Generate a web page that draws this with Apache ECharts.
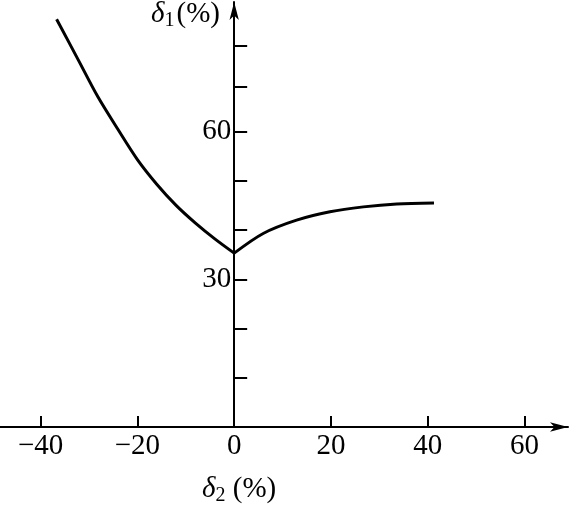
<!DOCTYPE html>
<html>
<head>
<meta charset="utf-8">
<script src="https://cdn.jsdelivr.net/npm/echarts@6/dist/echarts.min.js"></script>
<style>html,body{margin:0;padding:0;background:#fff}#c{width:577px;height:507px}</style>
</head>
<body>
<div id="c"></div>
<script>
// data
const leftBranch = [[-36.7,82.8],[-32.2,74.5],[-28.2,67.1],[-24.0,60.4],[-20.0,54.3],[-16.0,49.3],[-12.0,45.0],[-8.0,41.4],[-4.0,38.2],[0,35.3]];
const rightBranch = [[0,35.3],[6.0,39.3],[12.9,42.0],[19.8,43.7],[26.7,44.7],[33.6,45.3],[41.3,45.5]];
const xTickValues = [-40,-20,0,20,40,60];
const xLabelValues = [-40,-20,0,20,40,60];
const yTickValues = [10,20,30,40,50,60,69,77.5];
const yLabelValues = [30,60];

const FONT = 'Liberation Serif';
const XMIN = -48.4, XMAX = 69, GRID_L = 0, GRID_R = 9, W = 577;
const yAxisShift = (0 - XMIN) / (XMAX - XMIN) * (W - GRID_L - GRID_R);

const chart = echarts.init(document.getElementById('c'), null, {renderer:'canvas'});
chart.setOption({
  animation:false,
  backgroundColor:'#fff',
  grid:{left:GRID_L,right:GRID_R,top:2,bottom:80,outerBoundsMode:'none',containLabel:false},
  xAxis:{
    type:'value',min:XMIN,max:XMAX,
    splitLine:{show:false},
    axisLine:{onZero:true,lineStyle:{color:'#000',width:2},symbol:['none','arrow'],symbolSize:[7,18]},
    axisTick:{show:true,inside:true,length:11,lineStyle:{color:'#000',width:2},customValues:xTickValues},
    axisLabel:{color:'#000',fontFamily:FONT,fontSize:29,margin:5,customValues:xLabelValues,
      formatter:v=>v<0?'\u2212'+Math.abs(v):String(v)}
  },
  yAxis:{
    type:'value',min:0,max:86.3,position:'left',offset:-yAxisShift,
    splitLine:{show:false},
    axisLine:{onZero:false,lineStyle:{color:'#000',width:2},symbol:['none','arrow'],symbolSize:[7,18]},
    axisTick:{show:true,inside:true,length:13,lineStyle:{color:'#000',width:2},customValues:yTickValues},
    axisLabel:{show:true,color:'#000',fontFamily:FONT,fontSize:29,margin:3,customValues:yLabelValues}
  },
  series:[
    {type:'line',data:leftBranch,smooth:0.3,symbol:'none',lineStyle:{color:'#000',width:3},clip:false},
    {type:'line',data:rightBranch,smooth:0.3,symbol:'none',lineStyle:{color:'#000',width:3},clip:false}
  ],
  graphic:[
    {type:'text',left:151,top:0,style:{
      text:'{d|δ}{s|1}{p|(%)}',
      rich:{
        d:{fontFamily:FONT,fontStyle:'italic',fontSize:29,fill:'#000'},
        s:{fontFamily:FONT,fontSize:20,fill:'#000',verticalAlign:'bottom',padding:[12,2,0,0]},
        p:{fontFamily:FONT,fontSize:29,fill:'#000'}
      }}},
    {type:'text',left:202,top:475,style:{
      text:'{d|δ}{s|2}{p| (%)}',
      rich:{
        d:{fontFamily:FONT,fontStyle:'italic',fontSize:29,fill:'#000'},
        s:{fontFamily:FONT,fontSize:20,fill:'#000',verticalAlign:'bottom',padding:[12,0,0,0]},
        p:{fontFamily:FONT,fontSize:29,fill:'#000'}
      }}}
  ]
});
</script>
</body>
</html>
